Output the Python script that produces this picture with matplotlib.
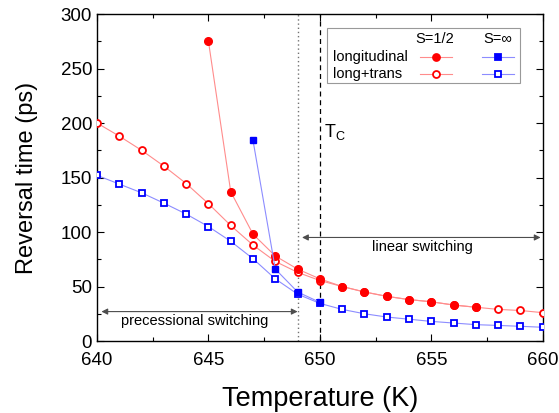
import numpy as np
import matplotlib.pyplot as plt
from matplotlib.lines import Line2D
from matplotlib.patches import Rectangle
from matplotlib.ticker import MultipleLocator

plt.rcParams['font.family'] = ['Liberation Sans', 'DejaVu Sans']
plt.rcParams['mathtext.default'] = 'regular'

# temperatures (K)
temp_all = np.arange(640, 661)
temp_long_half = np.arange(645, 658)
temp_long_inf = np.arange(647, 651)

# reversal times (ps)
long_half = [275, 137, 98, 78, 66, 57, 50, 45, 41, 38, 36, 33, 31]
lt_half = [200, 188, 175, 160.5, 144.5, 126, 106, 88, 73, 63, 55.5,
           50, 45, 41, 38, 36, 33, 31, 29, 28, 26]
long_inf = [184, 66, 45, 35.5]
lt_inf = [152, 144, 136, 126.5, 116.5, 105, 91.5, 75.5, 57, 43, 34.5,
          29, 25, 22, 20, 18, 16.5, 15, 14.3, 13.5, 12.6]

T_prec = 649
T_curie = 650

RED, BLUE = '#ff0000', '#0000ff'
RED_L, BLUE_L = '#ff8c8c', '#8c8cff'

fig = plt.figure(figsize=(5.59, 4.13), dpi=100)
ax = fig.add_axes([0.1735, 0.1743, 0.7975, 0.7917])

ax.plot(temp_all, lt_half, '-o', color=RED_L, lw=0.8, ms=5, mfc='white',
        mec=RED, mew=1.3, zorder=3)
ax.plot(temp_long_half, long_half, '-o', color=RED_L, lw=0.8, ms=5.5,
        mfc=RED, mec=RED, zorder=4)
ax.plot(temp_all, lt_inf, '-s', color=BLUE_L, lw=0.8, ms=4.3, mfc='white',
        mec=BLUE, mew=1.3, zorder=3)
ax.plot(temp_long_inf, long_inf, '-s', color=BLUE_L, lw=0.8, ms=4.5,
        mfc=BLUE, mec=BLUE, zorder=4)

ax.axvline(T_prec, color='0.45', ls=(0, (1, 2)), lw=1.0, zorder=1)
ax.axvline(T_curie, color='black', ls=(0, (4, 3)), lw=0.9, zorder=1)
ax.text(650.2, 192, r'T$_C$', fontsize=13, ha='left', va='center')

# switching regimes
arr = dict(arrowstyle='<|-|>', color='0.3', lw=0.8, mutation_scale=9,
           shrinkA=0, shrinkB=0)
ax.annotate('', xy=(640.2, 27), xytext=(649.0, 27), arrowprops=arr)
ax.text(644.4, 18, 'precessional switching', fontsize=10.5,
        ha='center', va='center')
ax.annotate('', xy=(649.2, 95), xytext=(659.9, 95), arrowprops=arr)
ax.text(654.6, 86, 'linear switching', fontsize=10.5, ha='center',
        va='center')

ax.set_xlim(640, 660)
ax.set_ylim(0, 300)
ax.xaxis.set_major_locator(MultipleLocator(5))
ax.xaxis.set_minor_locator(MultipleLocator(2.5))
ax.yaxis.set_major_locator(MultipleLocator(50))
ax.yaxis.set_minor_locator(MultipleLocator(25))
ax.tick_params(which='both', direction='in', top=True, right=True,
               width=0.8)
ax.tick_params(which='major', length=5, labelsize=13.5)
ax.tick_params(which='minor', length=3)
ax.tick_params(axis='x', labeltop=False, pad=8)
for sp in ax.spines.values():
    sp.set_linewidth(1.0)

ax.set_xlabel('Temperature (K)', fontsize=19.5, labelpad=12)
ax.set_ylabel('Reversal time (ps)', fontsize=17, labelpad=16)

# legend drawn as a small table
def fx(px):
    return (px - 97) / (543 - 97)

def fy(py):
    return (341 - py) / (341 - 14)

ax.add_patch(Rectangle((fx(327), fy(83)), fx(520) - fx(327),
                       fy(28) - fy(83), transform=ax.transAxes,
                       facecolor='white', edgecolor='0.6', lw=0.8,
                       zorder=6))
ax.text(fx(435), fy(39), 'S=1/2', transform=ax.transAxes, fontsize=10.5,
        ha='center', va='center', zorder=7)
ax.text(fx(498), fy(39), 'S=\u221e', transform=ax.transAxes, fontsize=10.5,
        ha='center', va='center', zorder=7)
rows = [('longitudinal', 57, RED, BLUE), ('long+trans', 74, 'white', 'white')]
for label, py, fc_r, fc_b in rows:
    ax.text(fx(333), fy(py), label, transform=ax.transAxes, fontsize=10.5,
            ha='left', va='center', zorder=7)
    ax.add_line(Line2D([fx(420), fx(436), fx(452)], [fy(py)] * 3,
                       transform=ax.transAxes, color=RED_L, lw=0.8,
                       marker='o', markevery=[1], ms=5, mfc=fc_r, mec=RED,
                       mew=1.3, zorder=7))
    ax.add_line(Line2D([fx(482), fx(498), fx(514)], [fy(py)] * 3,
                       transform=ax.transAxes, color=BLUE_L, lw=0.8,
                       marker='s', markevery=[1], ms=4.3, mfc=fc_b, mec=BLUE,
                       mew=1.3, zorder=7))

fig.savefig('out.png', dpi=100)
